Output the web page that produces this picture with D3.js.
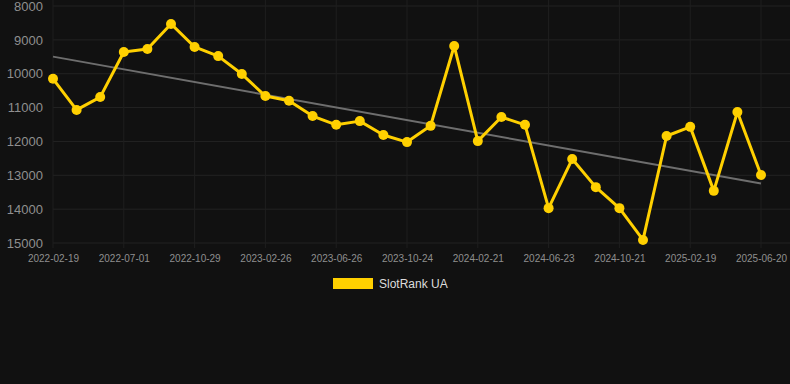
<!DOCTYPE html>
<html>
<head>
<meta charset="utf-8">
<script src="https://cdn.jsdelivr.net/npm/d3@7"></script>
<style>
  html, body { margin: 0; padding: 0; background: #111111; }
  svg { display: block; font-family: "Liberation Sans", Arial, sans-serif; }
</style>
</head>
<body>
<div id="chart"></div>
<script>
// dates of each point (category axis)
const dates = [
  '2022-02-19', '2022-03-30', '2022-05-11', '2022-07-01', '2022-08-10', '2022-09-19',
  '2022-10-29', '2022-12-08', '2023-01-17', '2023-02-26', '2023-04-07', '2023-05-17',
  '2023-06-26', '2023-08-05', '2023-09-14', '2023-10-24', '2023-12-03', '2024-01-12',
  '2024-02-21', '2024-04-01', '2024-05-12', '2024-06-23', '2024-08-02', '2024-09-11',
  '2024-10-21', '2024-11-30', '2025-01-09', '2025-02-19', '2025-03-31', '2025-05-10',
  '2025-06-20',
];
const rankValues = [
  10150, 11070, 10690, 9360, 9270, 8530, 9210, 9480, 10010, 10660, 10800, 11250,
  11510, 11400, 11810, 12020, 11540, 9180, 11990, 11280, 11510, 13970, 12520, 13350,
  13970, 14910, 11840, 11570, 13460, 11130, 12990,
];
const yTicks = [8000, 9000, 10000, 11000, 12000, 13000, 14000, 15000];
const seriesName = 'SlotRank UA';

const width = 790;
const height = 384;
const margin = { top: 6, left: 53, bottom: 141, right: 29 };

const svg = d3
  .select('#chart')
  .append('svg')
  .attr('width', width)
  .attr('height', height);

const x = d3
  .scalePoint()
  .domain(dates)
  .range([margin.left, width - margin.right]);

const y = d3
  .scaleLinear()
  .domain([8000, 15000])
  .range([margin.top, height - margin.bottom]);

// grid
svg
  .append('g')
  .selectAll('line')
  .data(yTicks)
  .enter()
  .append('line')
  .attr('x1', margin.left)
  .attr('x2', width)
  .attr('y1', (d) => y(d))
  .attr('y2', (d) => y(d))
  .attr('stroke', '#232323')
  .attr('stroke-width', 1);

const xTickDates = dates.filter((d, i) => i % 3 === 0);

svg
  .append('g')
  .selectAll('line')
  .data(xTickDates)
  .enter()
  .append('line')
  .attr('x1', (d) => x(d))
  .attr('x2', (d) => x(d))
  .attr('y1', 0)
  .attr('y2', y(15000) + 5)
  .attr('stroke', '#1f1f1f')
  .attr('stroke-width', 1);

// y axis labels
const yAxis = (g) =>
  g
    .attr('transform', `translate(${margin.left - 10}, 0)`)
    .call(
      d3
        .axisLeft(y)
        .tickValues(yTicks)
        .tickFormat(d3.format('d'))
        .tickSize(0)
        .tickPadding(0),
    )
    .call((g) => g.select('.domain').remove())
    .call((g) =>
      g
        .selectAll('.tick text')
        .attr('fill', '#8f8f8f')
        .style('font-size', '13px')
        .style('font-family', '"Liberation Sans", Arial, sans-serif'),
    );

// x axis labels
const xAxis = (g) =>
  g
    .attr('transform', `translate(0, ${y(15000) + 12})`)
    .call(d3.axisBottom(x).tickValues(xTickDates).tickSize(0).tickPadding(0))
    .call((g) => g.select('.domain').remove())
    .call((g) =>
      g
        .selectAll('.tick text')
        .attr('fill', '#8f8f8f')
        .style('font-size', '10px')
        .style('font-family', '"Liberation Sans", Arial, sans-serif'),
    );

svg.append('g').call(yAxis);
svg.append('g').call(xAxis);

// trend line (least squares over point index)
const n = rankValues.length;
const xs = d3.range(n);
const mx = d3.mean(xs);
const my = d3.mean(rankValues);
const slope =
  d3.sum(xs, (i) => (i - mx) * (rankValues[i] - my)) / d3.sum(xs, (i) => (i - mx) * (i - mx));
const icpt = my - slope * mx;

svg
  .append('line')
  .attr('x1', x(dates[0]))
  .attr('y1', y(icpt))
  .attr('x2', x(dates[n - 1]))
  .attr('y2', y(icpt + slope * (n - 1)))
  .attr('stroke', '#6e6e6e')
  .attr('stroke-width', 2);

// series line
const line = d3
  .line()
  .x((d, i) => x(dates[i]))
  .y((d) => y(d));

svg
  .append('path')
  .datum(rankValues)
  .attr('fill', 'none')
  .attr('stroke', '#ffd000')
  .attr('stroke-width', 3)
  .attr('stroke-linejoin', 'round')
  .attr('d', line);

svg
  .append('g')
  .selectAll('circle')
  .data(rankValues)
  .enter()
  .append('circle')
  .attr('cx', (d, i) => x(dates[i]))
  .attr('cy', (d) => y(d))
  .attr('r', 5)
  .attr('fill', '#ffd000');

// legend
const legend = svg.append('g').attr('transform', 'translate(333, 278)');
legend
  .append('rect')
  .attr('width', 40)
  .attr('height', 11)
  .attr('fill', '#ffd000');
legend
  .append('text')
  .attr('x', 46)
  .attr('y', 6)
  .attr('dy', '0.35em')
  .attr('fill', '#dddddd')
  .style('font-size', '12px')
  .text(seriesName);
</script>
</body>
</html>
